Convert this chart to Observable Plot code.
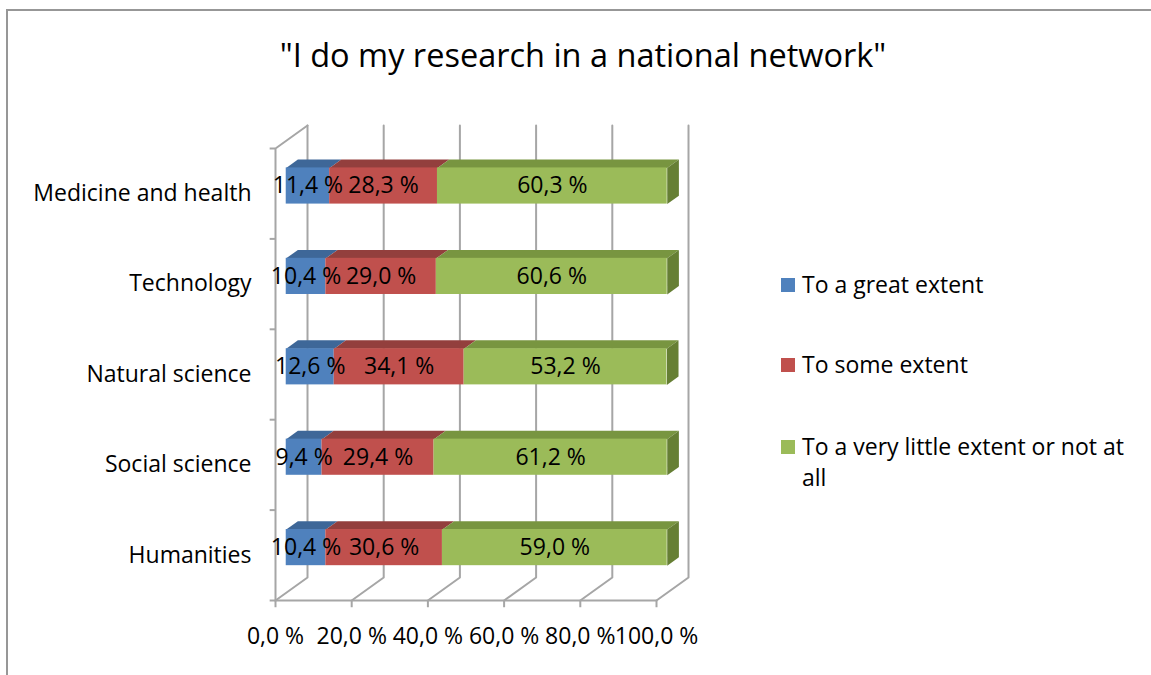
<!DOCTYPE html>
<html>
<head>
<meta charset="utf-8">
<script src="https://cdn.jsdelivr.net/npm/d3@7"></script>
<script src="https://cdn.jsdelivr.net/npm/@observablehq/plot@0.6"></script>
<style>
  body { margin: 0; background: #fff; font-family: "Open Sans", sans-serif; }
  #wrap { position: relative; width: 1151px; height: 675px; overflow: hidden; background: #fff; }
  #border { position: absolute; left: 6px; top: 9px; width: 1200px; height: 700px;
            border-top: 2px solid #979797; border-left: 2px solid #979797; box-sizing: border-box; }
  #chart { position: absolute; left: 0; top: 0; }
  #title { position: absolute; left: 0; width: 1166px; top: 33px; text-align: center;
           font-size: 32.5px; line-height: 44px; color: #000; white-space: nowrap; }
  #legend { position: absolute; left: 781px; top: 0; }
  .item { position: absolute; left: 0; white-space: nowrap; font-size: 23px; color: #000; line-height: 31px; }
  .sw { position: absolute; left: 0; width: 14px; height: 14px; }
  .lt { position: absolute; left: 21px; width: 350px; white-space: normal; }
</style>
</head>
<body>
<div id="wrap">
  <div id="border"></div>
  <div id="chart"></div>
  <div id="title">"I do my research in a national network"</div>
  <div id="legend"></div>
</div>
<script>
// ---- data ----
const categories = ["Humanities", "Social science", "Natural science", "Technology", "Medicine and health"];
const series = ["To a great extent", "To some extent", "To a very little extent or not at all"];
const greatExtent  = [10.4,  9.4, 12.6, 10.4, 11.4];
const someExtent   = [30.6, 29.4, 34.1, 29.0, 28.3];
const littleExtent = [59.0, 61.2, 53.2, 60.6, 60.3];
const xTicks = [0, 20, 40, 60, 80, 100];
const frontColors = ["#4f81bd", "#c0504d", "#9bbb59"];
const topColors   = ["#3e6798", "#933f3d", "#789540"];
const sideColors  = ["#31527a", "#7a3331", "#667f34"];

// ---- 3D geometry (in data units) ----
const DX = 8.4;     // depth shift along x (percent)
const DY = 0.254;   // depth shift along y (category units)
const D1 = 0.335;   // bar front depth
const D2 = 0.70;    // bar back depth
const HALF = 0.2;   // half bar height (category units)

const values = [greatExtent, someExtent, littleExtent];
const fmt = v => v.toFixed(1).replace(".", ",") + " %";

const segs = [];
categories.forEach((c, i) => {
  let acc = 0;
  values.forEach((arr, s) => {
    const v = arr[i];
    segs.push({cat: i, s, x1: acc, x2: acc + v, v, yc: i + 0.5});
    acc += v;
  });
});

const fronts = segs.map(d => ({
  x1: d.x1 + DX * D1, x2: d.x2 + DX * D1,
  y1: d.yc - HALF + DY * D1, y2: d.yc + HALF + DY * D1,
  fill: frontColors[d.s], label: fmt(d.v),
  xm: (d.x1 + d.x2) / 2 + DX * D1, ym: d.yc + DY * D1
}));

const tops = [];
segs.forEach((d, k) => {
  const yt = d.yc + HALF;
  const pts = [[d.x1 + DX * D1, yt + DY * D1], [d.x2 + DX * D1, yt + DY * D1],
               [d.x2 + DX * D2, yt + DY * D2], [d.x1 + DX * D2, yt + DY * D2]];
  pts.forEach(([x, y]) => tops.push({id: k, x, y, fill: topColors[d.s]}));
});

const sides = [];
segs.filter(d => d.s === series.length - 1).forEach((d, k) => {
  const yt = d.yc + HALF, yb = d.yc - HALF;
  const pts = [[d.x2 + DX * D1, yt + DY * D1], [d.x2 + DX * D2, yt + DY * D2],
               [d.x2 + DX * D2, yb + DY * D2], [d.x2 + DX * D1, yb + DY * D1]];
  pts.forEach(([x, y]) => sides.push({id: k, x, y, fill: sideColors[d.s]}));
});

const n = categories.length;
const grid = [];
xTicks.forEach(t => {
  grid.push({id: t, x: t, y: 0}, {id: t, x: t + DX, y: DY}, {id: t, x: t + DX, y: n + DY});
});
const leftWall = [{x: 0, y: 0}, {x: 0, y: n}, {x: DX, y: n + DY}];
const floorFront = [{x: xTicks[0], y: 0}, {x: xTicks[xTicks.length - 1], y: 0}];
const bounds = d3.range(n + 1);
const centers = categories.map((c, i) => i + 0.5);

const gridColor = "#a6a6a6";

const chart = Plot.plot({
  width: 1151,
  height: 675,
  marginLeft: 275,
  marginRight: 495,
  marginTop: 148,
  marginBottom: 75,
  style: {fontFamily: "'Open Sans', sans-serif", background: "transparent", color: "#000"},
  x: {domain: [0, 100]},
  y: {domain: [0, n]},
  color: {type: "identity"},
  marks: [
    Plot.line(grid, {x: "x", y: "y", z: "id", stroke: gridColor, strokeWidth: 2}),
    Plot.line(leftWall, {x: "x", y: "y", stroke: gridColor, strokeWidth: 2}),
    Plot.line(floorFront, {x: "x", y: "y", stroke: gridColor, strokeWidth: 2}),
    Plot.ruleX(xTicks, {x: d => d, y1: 0, y2: -0.08, stroke: gridColor, strokeWidth: 2}),
    Plot.ruleY(bounds, {y: d => d, x1: -1.4, x2: 0, stroke: gridColor, strokeWidth: 2}),
    Plot.line(tops, {x: "x", y: "y", z: "id", fill: "fill", stroke: "none"}),
    Plot.line(sides, {x: "x", y: "y", z: "id", fill: "fill", stroke: "none"}),
    Plot.rect(fronts, {x1: "x1", x2: "x2", y1: "y1", y2: "y2", fill: "fill"}),
    Plot.text(fronts, {x: "xm", y: "ym", text: "label", fontSize: 23, fill: "#000"}),
    Plot.axisX(xTicks, {tickSize: 0, tickPadding: 27, fontSize: 23, tickFormat: fmt, label: null}),
    Plot.axisY(centers, {tickSize: 0, tickPadding: 24, fontSize: 23, tickFormat: v => categories[Math.floor(v)], label: null})
  ]
});
document.getElementById("chart").appendChild(chart);

// ---- legend ----
const legendTops = [269, 349, 431];
const legend = document.getElementById("legend");
series.forEach((s, i) => {
  const item = document.createElement("div");
  item.className = "item";
  item.style.top = legendTops[i] + "px";
  const sw = document.createElement("div");
  sw.className = "sw";
  sw.style.background = frontColors[i];
  sw.style.top = "9px";
  const lt = document.createElement("div");
  lt.className = "lt";
  lt.textContent = s;
  item.appendChild(sw);
  item.appendChild(lt);
  legend.appendChild(item);
});
</script>
</body>
</html>
